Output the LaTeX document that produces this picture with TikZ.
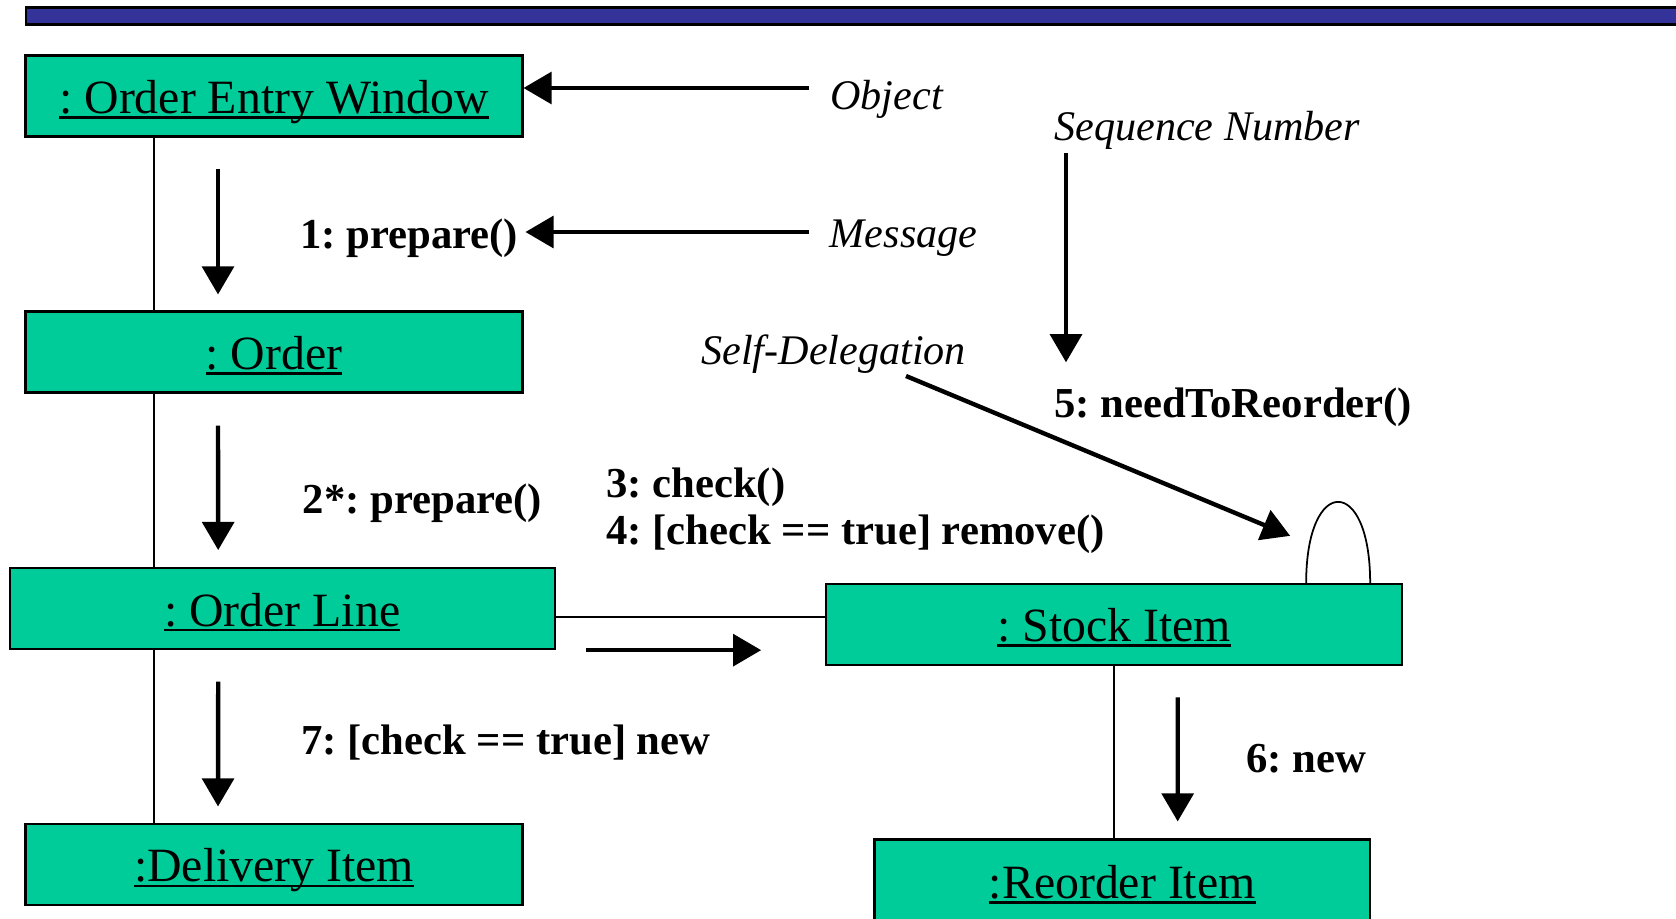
\documentclass[tikz,border=0pt]{standalone}
\usepackage{fontspec}
\setmainfont{Liberation Serif}
\usetikzlibrary{arrows.meta}
\usepackage{xcolor}

\definecolor{objfill}{RGB}{0,204,153}
\definecolor{barblue}{RGB}{51,51,153}

% underlined object name, rule close under the baseline
\newcommand{\objname}[1]{\setbox0\hbox{#1}\rlap{\rule[-0.11em]{\wd0}{0.055em}}\box0}
\frenchspacing

\begin{document}
\begin{tikzpicture}[x=0.02cm,y=-0.02cm,>={Triangle[length=16pt,width=18pt]},
  obj/.style={draw,line width=1.2pt,fill=objfill,inner sep=0pt,minimum height=1.62cm,text height=19.8pt,text depth=0pt,font=\fontsize{27.2}{32}\selectfont},
  msg/.style={anchor=west,inner sep=0.1cm,font=\fontsize{24.3}{29}\selectfont\bfseries},
  note/.style={anchor=west,inner sep=0.1cm,font=\fontsize{24}{29}\selectfont\itshape},
  callout/.style={->,line width=2.5pt},
  assoc/.style={line width=1pt}]
\useasboundingbox (0,0) rectangle (1676,919);
\clip (0,0) rectangle (1676,919);

% title bar
\draw[line width=1.2pt,fill=barblue] (25.6,7.5) rectangle (1700,24.5);

% objects
\node[obj,minimum width=9.94cm] (oew) at (274,96) {\objname{: Order Entry Window}};
\node[obj,minimum width=9.94cm] (order) at (274,352) {\objname{: Order}};
\node[obj,minimum width=10.9cm] (line) at (282.2,608.6) {\objname{: Order Line}};
\node[obj,minimum width=9.94cm] (deliv) at (274,864.5) {\objname{:Delivery Item}};
\node[obj,minimum width=11.53cm] (stock) at (1114.2,624.4) {\objname{: Stock Item}};
\node[obj,minimum width=9.91cm,minimum height=1.66cm] (reorder) at (1122.2,881) {\objname{:Reorder Item}};

% links
\coordinate (spine) at (154,0);
\coordinate (linky) at (0,616.7);
\draw[assoc] (oew.south -| spine) -- (order.north -| spine);
\draw[assoc] (order.south -| spine) -- (line.north -| spine);
\draw[assoc] (line.south -| spine) -- (deliv.north -| spine);
\draw[assoc] (line.east |- linky) -- (stock.west |- linky);
\draw[assoc] (stock.south) -- (stock.south |- reorder.north);
\draw[assoc] ([xshift=3.84cm]stock.north) .. controls +(0cm,2.16cm) and +(0cm,2.16cm) .. ([xshift=5.12cm]stock.north);

% messages
\node[msg] (m1) at (295,238) {1: prepare()};
\node[msg] (m2) at (297.5,503) {2*: prepare()};
\node[msg] (m3) at (601,487) {3: check()};
\node[msg] (m4) at (601,534) {4: [check == true] remove()};
\node[msg] (m5) at (1049,407) {5: needToReorder()};
\node[msg] (m7) at (296,742.6) {7: [check == true] new};
\node[msg] (m6) at (1241,758.7) {6: new};

\draw[callout] ([xshift=-1.12cm,yshift=-0.62cm]oew.south) -- ([xshift=-1.12cm,yshift=0.32cm]order.north);
\draw[callout] ([xshift=-1.12cm,yshift=-0.64cm]order.south) -- ([xshift=-1.28cm,yshift=0.34cm]line.north);
\draw[callout] ([xshift=-1.28cm,yshift=-0.63cm]line.south) -- ([xshift=-1.12cm,yshift=0.33cm]deliv.north);
\draw[callout] ([xshift=1.27cm,yshift=-0.63cm]stock.south) -- ([xshift=1.11cm,yshift=0.34cm]reorder.north);
\draw[callout] ([xshift=0.61cm]line.south east) -- ++(3.5cm,0);

% annotations
\node[note] (objlbl) at (825,99) {Object};
\node[note] (seqlbl) at (1049,130) {Sequence Number};
\node[note] (msglbl) at (824.5,238) {Message};
\node[note] (selflbl) at (696,354) {Self-Delegation};

\coordinate (objtail) at (809,88);
\coordinate (msgtail) at (809,232);
\coordinate (seqtail) at (1066,153);
\coordinate (selftail) at (906,376);
\draw[callout] (objtail) -- (objtail -| oew.east);
\draw[callout] (msgtail) -- ([xshift=0.04cm]msgtail -| m1.east);
\draw[callout,shorten >=0.4cm] (seqtail) -- (seqtail |- m5.north);
\draw[callout] (selftail) -- ([xshift=3.52cm,yshift=0.94cm]stock.north);
\end{tikzpicture}
\end{document}
